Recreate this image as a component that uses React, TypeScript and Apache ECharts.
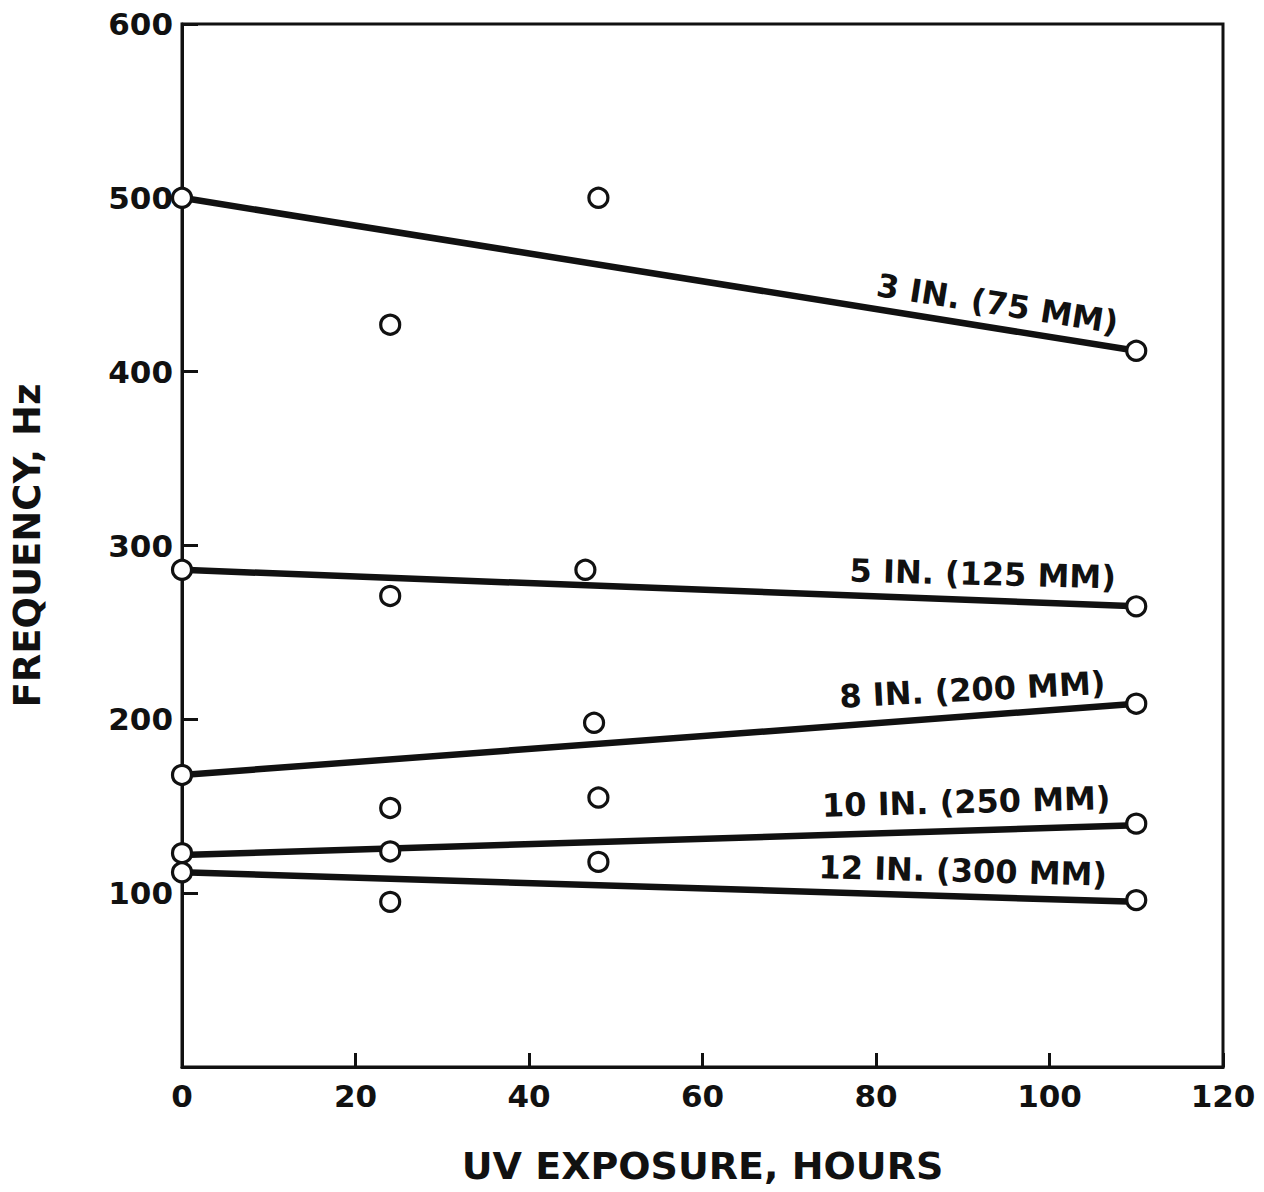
import React, { useEffect, useRef } from "react";
import * as echarts from "echarts";

// Measured points: UV exposure (hours) vs frequency (Hz)
const hours3in = [0, 24, 48, 110];
const freq3in = [500, 427, 500, 412];
const hours5in = [0, 24, 46.5, 110];
const freq5in = [286, 271, 286, 265];
const hours8in = [0, 47.5, 110];
const freq8in = [168, 198, 209];
const hours10in = [0, 24, 24, 48, 110];
const freq10in = [123, 149, 124, 155, 140];
const hours12in = [0, 24, 48, 110];
const freq12in = [112, 95, 118, 96];

// Fitted trend lines (start, end)
const fitHours = [0, 110];
const fit3in = [500, 412];
const fit5in = [286, 265];
const fit8in = [168, 209];
const fit10in = [122, 139];
const fit12in = [112, 95];

const seriesNames = ["3 IN. (75 MM)", "5 IN. (125 MM)", "8 IN. (200 MM)", "10 IN. (250 MM)", "12 IN. (300 MM)"];
// label anchors in data coordinates (hours, Hz) and their tilt in degrees
const labelHours = [94, 92.3, 91.1, 90.4, 90];
const labelFreq = [439, 283.6, 217, 152.5, 112.8];
const labelTilt = [-9, -1.5, 3, 1.5, -1.5];

const xTicks = [0, 20, 40, 60, 80, 100, 120];
const yTicks = [100, 200, 300, 400, 500, 600];

const INK = "#111";
const FONT = "DejaVu Sans";

export default function App() {
  const ref = useRef<HTMLDivElement>(null);
  useEffect(() => {
    document.body.style.margin = "0";
    const chart = echarts.init(ref.current!, null, { renderer: "svg" });
    const pts = (h: number[], f: number[]) => h.map((x, i) => [x, f[i]]);
    const sets = [
      [hours3in, freq3in, fit3in],
      [hours5in, freq5in, fit5in],
      [hours8in, freq8in, fit8in],
      [hours10in, freq10in, fit10in],
      [hours12in, freq12in, fit12in],
    ] as const;
    const series: any[] = [];
    sets.forEach(([h, f, fit], i) => {
      series.push({
        type: "line",
        name: seriesNames[i] + " fit",
        data: pts(fitHours, fit as number[]),
        showSymbol: false,
        symbol: "none",
        lineStyle: { color: INK, width: 6.5 },
        z: 2,
        silent: true,
      });
      series.push({
        type: "scatter",
        name: seriesNames[i],
        data: pts(h as number[], f as number[]),
        symbol: "circle",
        symbolSize: 19,
        itemStyle: { color: "#fff", borderColor: INK, borderWidth: 3.2, opacity: 1 },
        z: 3,
        silent: true,
      });
      series.push({
        type: "scatter",
        name: seriesNames[i] + " label",
        data: [[labelHours[i], labelFreq[i]]],
        symbolSize: 0,
        itemStyle: { opacity: 1 },
        z: 4,
        silent: true,
        label: {
          show: true,
          position: "inside",
          formatter: seriesNames[i],
          rotate: labelTilt[i],
          color: INK,
          opacity: 1,
          fontFamily: FONT,
          fontWeight: "bold",
          fontSize: 32,
        },
      });
    });

    chart.setOption({
      animation: false,
      backgroundColor: "#fff",
      grid: {
        left: 182,
        right: 41,
        top: 24,
        bottom: 125,
        show: true,
        borderColor: INK,
        borderWidth: 3,
        backgroundColor: "transparent",
      },
      xAxis: {
        type: "value",
        min: xTicks[0],
        max: xTicks[xTicks.length - 1],
        interval: 20,
        name: "UV EXPOSURE, HOURS",
        nameLocation: "middle",
        nameGap: 80,
        nameTextStyle: { color: INK, fontFamily: FONT, fontWeight: "bold", fontSize: 38 },
        axisLine: { show: true, lineStyle: { color: INK, width: 3 } },
        axisTick: { show: true, inside: true, length: 14, lineStyle: { color: INK, width: 3 } },
        axisLabel: { color: INK, fontFamily: FONT, fontWeight: "bold", fontSize: 31, margin: 13 },
        splitLine: { show: false },
      },
      yAxis: {
        type: "value",
        min: 0,
        max: yTicks[yTicks.length - 1],
        interval: 100,
        name: "FREQUENCY, Hz",
        nameLocation: "middle",
        nameGap: 136,
        nameTextStyle: { color: INK, fontFamily: FONT, fontWeight: "bold", fontSize: 37 },
        axisLine: { show: true, lineStyle: { color: INK, width: 3 } },
        axisTick: { show: true, inside: true, length: 16, lineStyle: { color: INK, width: 3 } },
        axisLabel: {
          color: INK,
          fontFamily: FONT,
          fontWeight: "bold",
          fontSize: 31,
          margin: 9,
          formatter: (v: number) => (yTicks.includes(v) ? String(v) : ""),
        },
        splitLine: { show: false },
      },
      series,
    });
    return () => chart.dispose();
  }, []);
  return <div ref={ref} style={{ position: "absolute", left: 0, top: 0, width: 1264, height: 1192 }} />;
}
